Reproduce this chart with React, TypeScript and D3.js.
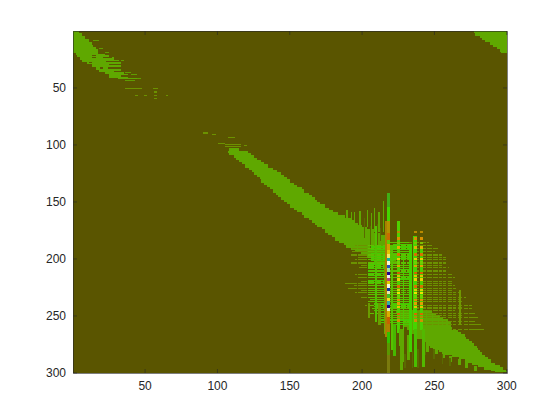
import React, { useEffect, useRef } from "react";
import * as d3 from "d3";

// matrix is 300 x 300, everything below is [row, firstCol, lastCol] etc
const tickValues = [50, 100, 150, 200, 250, 300];

const firstBand = [
  [1, 1, 4], [3, 1, 6], [5, 1, 8], [8, 1, 11], [11, 1, 13], [13, 1, 14], [15, 1, 16], [17, 1, 17],
  [20, 3, 22], [22, 4, 25], [24, 6, 28], [26, 7, 32], [28, 11, 33], [30, 14, 33], [33, 17, 33],
  [35, 19, 33], [37, 23, 35], [39, 26, 38], [42, 32, 44],
];
const firstHoles = [
  [3, 8, 11], [7, 12, 13], [20, 18, 22], [22, 14, 16], [24, 14, 16], [24, 22, 27], [27, 24, 32],
  [30, 26, 33], [33, 25, 33], [36, 29, 33], [40, 34, 39], [43, 38, 42], [28, 12, 13], [33, 20, 21],
];
const firstFringe = [
  [9, 15, 18], [16, 19, 21], [19, 23, 25], [26, 34, 35], [37, 37, 40], [39, 41, 44], [42, 45, 47], [44, 37, 43],
];

const cornerBand = [
  [1, 278, 300], [3, 279, 300], [5, 282, 300], [7, 284, 300], [9, 286, 300], [11, 289, 300],
  [13, 291, 300], [15, 294, 300], [17, 296, 300], [19, 297, 300],
];

const mainBand = [
  [104, 109, 115], [106, 108, 121], [108, 109, 123], [110, 112, 125], [112, 114, 127], [114, 116, 130],
  [116, 118, 132], [118, 120, 135], [121, 123, 138], [123, 125, 141], [125, 126, 144], [127, 128, 146],
  [129, 130, 148], [131, 131, 150], [134, 133, 153], [136, 135, 155], [138, 137, 158], [140, 139, 160],
  [143, 141, 163], [145, 143, 165], [147, 145, 167], [149, 147, 169], [151, 149, 171], [153, 151, 174],
  [156, 154, 177], [158, 156, 180], [160, 159, 183], [162, 161, 188], [165, 164, 192], [167, 166, 195],
  [169, 168, 197], [171, 170, 200], [173, 173, 203], [175, 175, 208], [178, 177, 213], [180, 180, 216],
  [182, 182, 218], [185, 185, 218], [187, 188, 218], [189, 190, 219], [191, 193, 220], [193, 196, 220],
  [195, 200, 221], [197, 204, 222], [200, 207, 223], [203, 209, 224],
];

const lowerBand = [
  [246, 224, 248], [248, 225, 251], [250, 226, 254], [252, 227, 256], [254, 229, 259], [256, 230, 261],
  [258, 230, 261], [261, 232, 262], [263, 234, 266], [265, 235, 268], [267, 237, 271], [269, 239, 272],
  [271, 242, 274], [273, 244, 276], [275, 246, 277], [277, 248, 279], [279, 250, 280], [281, 254, 281],
  [283, 258, 283], [285, 263, 285], [287, 268, 287], [289, 272, 289], [292, 277, 292], [294, 281, 295],
  [296, 285, 297], [298, 290, 299], [299, 293, 300],
];

// [col, topRow, bottomRow]
const upTeeth = [
  [190, 158, 170], [193, 160, 170], [195, 160, 172], [199, 159, 172], [204, 158, 172], [207, 161, 176], [212, 160, 176],
  [215, 150, 176], [209, 156, 176],
];
const lowTeeth = [
  [228, 262, 290], [232, 268, 289], [245, 272, 282], [251, 278, 283],
  [256, 283, 287], [261, 286, 290], [267, 289, 293], [272, 292, 296], [278, 295, 298], [227, 262, 297],
];
const darkGaps = [
  [202, 165, 182], [206, 172, 190], [211, 170, 188], [213, 174, 184], [244, 274, 284], [250, 280, 288],
  [256, 284, 292], [261, 288, 294], [235, 282, 296], [239, 280, 296], [230, 284, 296],
];

// vertical streaks: [firstCol, lastCol, topRow, bottomRow, colour]
const streaks: [number, number, number, number, string][] = [
  [210, 210, 172, 255, "#52c000"], [216, 216, 205, 266, "#6da800"], [221, 221, 190, 280, "#58c000"],
  [222, 223, 258, 285, "#46b800"], [225, 226, 168, 265, "#50d000"], [226, 226, 262, 276, "#5ab000"],
  [229, 229, 200, 262, "#50c800"], [233, 234, 188, 282, "#42d000"], [236, 238, 181, 262, "#44d400"],
  [237, 238, 262, 295, "#48c000"], [241, 242, 190, 262, "#4ad000"], [242, 243, 262, 295, "#52b800"],
  [212, 213, 240, 258, "#6a9c00"], [205, 205, 240, 252, "#6a9c00"], [268, 268, 228, 258, "#6f9800"],
  [217, 217, 168, 268, "#a98000"],
];

const stripeRows = [
  [186, 218, 246], [189, 196, 248], [191, 194, 252], [194, 194, 250], [197, 193, 256], [199, 198, 258],
  [201, 196, 258], [204, 193, 258], [206, 200, 256], [208, 199, 260], [211, 206, 258], [214, 196, 262],
  [217, 198, 264], [220, 200, 262], [222, 189, 262], [224, 195, 264], [226, 191, 266], [228, 200, 262],
  [230, 196, 268], [232, 204, 266], [234, 200, 272], [236, 206, 268], [238, 205, 270], [241, 203, 276],
  [243, 210, 270], [244, 208, 276], [246, 212, 264], [248, 205, 278], [250, 214, 270], [252, 216, 280],
  [255, 230, 278], [258, 240, 282], [262, 262, 284],
];
const stripeBreaks = [197, 204, 209, 214, 227, 231, 235, 240, 245, 249, 253, 256, 259, 263, 266, 270, 274];
// stripes turn bright between these columns
const brightFrom = 204;
const brightTo = 232;

const brightBlocks = [
  [190, 204, 207, 222], [205, 222, 205, 217], [186, 200, 222, 232], [206, 226, 226, 233], [224, 246, 209, 216],
  [246, 256, 212, 224], [232, 258, 222, 233],
];

// colour runs down the hottest column, [topRow, bottomRow, colour]
const mainColumn: [number, number, string][] = [
  [143, 155, "#3fae12"], [155, 168, "#42d600"], [168, 178, "#b39000"], [178, 184, "#c96a00"], [184, 188, "#5ecb00"],
  [188, 193, "#d0a000"], [193, 197, "#e2c800"], [197, 200, "#f0e860"], [200, 203, "#10b0a0"], [203, 206, "#f8f8d0"],
  [206, 209, "#2050c0"], [209, 212, "#a0e0a0"], [212, 215, "#200090"], [215, 218, "#f0f0f0"], [218, 220, "#b04080"],
  [220, 223, "#e0d000"], [223, 226, "#f8f8e0"], [226, 229, "#1030a0"], [229, 232, "#e8e8b0"], [232, 235, "#40c020"],
  [235, 238, "#f0e020"], [238, 241, "#30b0a0"], [241, 244, "#200090"], [244, 247, "#e0f0c0"], [247, 252, "#d8b000"],
  [252, 258, "#c86000"], [258, 265, "#b08000"], [265, 275, "#30c000"], [275, 285, "#5a9800"], [285, 300, "#7a7a10"],
];
const hotRows = [
  [176, "#b88a00"], [182, "#d89000"], [186, "#7fc000"], [190, "#e0b000"], [196, "#d87000"], [200, "#e8d000"], [203, "#70d000"],
  [206, "#e0a000"], [212, "#d86000"], [215, "#e0c000"], [218, "#e8d000"], [224, "#d87000"], [227, "#d8d000"], [230, "#f0e000"],
  [233, "#70d000"], [236, "#e09000"], [239, "#e0a000"], [242, "#e8c000"], [248, "#d86800"], [251, "#b09000"], [254, "#d09000"],
] as [number, string][];
const hotCols = [225, 237, 241];

const sparseCells = [
  [51, 37, 48], [51, 56, 59], [57, 44, 45], [57, 50, 51], [57, 57, 58], [57, 65, 66], [54, 57, 58], [60, 57, 58],
  [90, 91, 93], [91, 97, 99], [99, 101, 105], [100, 106, 116], [102, 106, 116], [101, 119, 120], [94, 108, 112],
];

const App = () => {
  const ref = useRef<SVGSVGElement>(null);

  useEffect(() => {
    const svg = d3.select(ref.current);
    svg.selectAll("*").remove();

    const x = d3.scaleLinear().domain([0.5, 300.5]).range([73, 507]);
    const y = d3.scaleLinear().domain([0.5, 300.5]).range([31, 373]);

    const defs = svg.append("defs");
    defs.append("clipPath").attr("id", "plot").append("rect").attr("x", 73).attr("y", 31).attr("width", 434).attr("height", 342);
    defs.append("filter").attr("id", "soft").append("feGaussianBlur").attr("stdDeviation", 0.4);

    svg.append("rect").attr("x", 73).attr("y", 31).attr("width", 434).attr("height", 342).attr("fill", "#5a5500");

    const g = svg.append("g").attr("clip-path", "url(#plot)")
      .append("g").attr("filter", "url(#soft)").attr("shape-rendering", "crispEdges");

    const cell = (c0: number, c1: number, r0: number, r1: number, fill: string) =>
      g.append("rect")
        .attr("x", x(c0 - 0.5))
        .attr("y", y(r0 - 0.5))
        .attr("width", x(c1 + 0.5) - x(c0 - 0.5))
        .attr("height", y(r1 + 0.5) - y(r0 - 0.5))
        .attr("fill", fill);

    const drawSpans = (spans: number[][], fill: string) => {
      spans.forEach((s, i) => {
        const next = spans[i + 1];
        const bottom = next && next[0] - s[0] < 6 ? next[0] - 1 : s[0];
        cell(s[1], s[2], s[0], bottom, fill);
      });
    };

    const bg = "#5a5500";
    const green = "#5ea800";
    const dim = "#6c9200";

    sparseCells.forEach(s => cell(s[1], s[2], s[0], s[0], dim));
    firstFringe.forEach(s => cell(s[1], s[2], s[0], s[0], "#5e9c00"));

    drawSpans(firstBand, green);
    firstHoles.forEach(s => cell(s[1], s[2], s[0], s[0], bg));
    drawSpans(cornerBand, green);
    drawSpans(mainBand, green);
    drawSpans(lowerBand, green);

    upTeeth.forEach(t => cell(t[0], t[0], t[1], t[2], green));
    lowTeeth.forEach(t => cell(t[0], t[0] + 1, t[1], t[2], green));
    darkGaps.forEach(t => cell(t[0], t[0], t[1], t[2], "#5a6a00"));

    brightBlocks.forEach(b => {
      d3.range(b[0], b[1] + 1, 2).forEach(r => cell(b[2], b[3], r, r, "#45cc00"));
    });

    stripeRows.forEach(s => {
      d3.range(s[1], s[2] + 1)
        .filter(c => !stripeBreaks.includes(c))
        .forEach(c => cell(c, c, s[0], s[0], c >= brightFrom && c <= brightTo ? "#5fbe00" : dim));
    });

    streaks.forEach(s => cell(s[0], s[1], s[2], s[3], s[4]));

    hotCols.forEach(c => {
      hotRows.forEach(h => cell(c, c + 1, h[0], h[0] + 1, h[1]));
    });
    mainColumn.forEach(m => cell(218, 219, m[0], m[1], m[2]));

    const frame = svg.append("g").attr("fill", "none");
    const axisColor = "#262626";

    const addAxis = (axis: d3.Axis<number>, tx: number, ty: number, labels: boolean) => {
      const a = frame.append("g")
        .attr("transform", "translate(" + tx + "," + ty + ")")
        .call(axis.tickValues(tickValues).tickSizeOuter(0));
      a.selectAll("path").attr("stroke", axisColor).attr("stroke-width", 0.6);
      a.selectAll("line").attr("stroke", axisColor).attr("stroke-width", 0.6);
      a.selectAll("text")
        .attr("fill", axisColor)
        .style("font-family", "'Liberation Sans', Arial, sans-serif")
        .style("font-size", "12px")
        .style("display", labels ? null : "none");
      return a;
    };

    addAxis(d3.axisBottom<number>(x).tickSize(-4).tickPadding(8), 0, 373, true);
    addAxis(d3.axisLeft<number>(y).tickSize(-4).tickPadding(7), 73, 0, true);
    addAxis(d3.axisTop<number>(x).tickSize(-4), 0, 31, false);
    addAxis(d3.axisRight<number>(y).tickSize(-4), 507, 0, false);
  }, []);

  return (
    <svg
      ref={ref}
      width={560}
      height={420}
      style={{ position: "absolute", left: 0, top: 0, background: "#fff" }}
    />
  );
};

export default App;
